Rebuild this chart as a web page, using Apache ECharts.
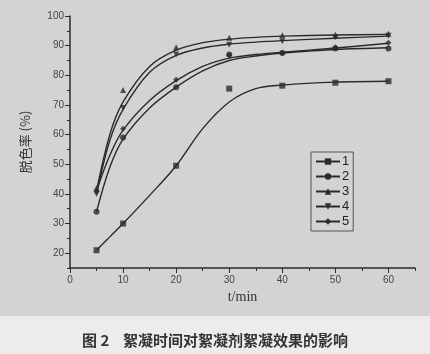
<!DOCTYPE html>
<html>
<head>
<meta charset="utf-8">
<script src="https://cdn.jsdelivr.net/npm/echarts@6/dist/echarts.min.js"></script>
<style>
  html, body { margin: 0; padding: 0; background: #ececec; }
  #main { width: 430px; height: 354px; }
</style>
</head>
<body>
<div id="main"></div>
<script>
// measured points (t/min -> 脱色率 %)
var times = [5, 10, 20, 30, 40, 50, 60];
var s1 = [21, 30, 49.5, 75.5, 76.5, 77.5, 78];
var s2 = [34, 59, 76, 87, 87.5, 89, 89];
var s3 = [42, 75, 89.5, 92.7, 93.5, 93.7, 94];
var s4 = [40, 69, 87, 90.3, 91.5, 92.8, 93.3];
var s5 = [41, 62, 78.5, 86.8, 87.5, 89.5, 91];

// fitted curves
var fitTimes = [5, 7.5, 10, 15, 20, 25, 30, 35, 40, 50, 60];
var f1 = [21, 25.5, 30, 39.5, 49.5, 62, 71, 75.5, 76.7, 77.7, 78];
var f2 = [34, 49, 58.5, 69, 76, 81.5, 85, 86.5, 87.5, 88.7, 89.3];
var f3 = [41, 60, 71, 83, 88.5, 91, 92.2, 92.8, 93.2, 93.6, 93.8];
var f4 = [40, 58, 68.5, 81, 86.7, 89.2, 90.5, 91.2, 91.7, 92.5, 93.2];
var f5 = [41, 53, 61.5, 71.5, 78.2, 83, 85.8, 87, 87.8, 89.2, 90.8];

var names = ['1', '2', '3', '4', '5'];
var points = [s1, s2, s3, s4, s5];
var fits = [f1, f2, f3, f4, f5];
var symbols = ['rect', 'circle', 'triangle', 'triangle', 'diamond'];
var rotates = [0, 0, 0, 180, 0];

var xMajor = [0, 10, 20, 30, 40, 50, 60];
var xMinor = [5, 15, 25, 35, 45, 55, 65];
var yMajor = [20, 30, 40, 50, 60, 70, 80, 90, 100];
var yMinor = [15, 25, 35, 45, 55, 65, 75, 85, 95];

function pairs(xs, ys) {
    var out = [];
    for (var i = 0; i < xs.length; i++) out.push([xs[i], ys[i]]);
    return out;
}

var ink = '#2a2a2a';
var series = [];
// curves first so the legend icon takes line + symbol from them
for (var i = 0; i < 5; i++) {
    series.push({
        name: names[i],
        type: 'line',
        smooth: 0.35,
        showSymbol: false,
        symbol: symbols[i],
        symbolRotate: rotates[i],
        symbolSize: 6,
        data: pairs(fitTimes, fits[i]),
        lineStyle: { color: ink, width: 1.4 },
        itemStyle: { color: ink },
        z: 2
    });
}
for (var j = 0; j < 5; j++) {
    series.push({
        name: names[j],
        type: 'scatter',
        symbol: symbols[j],
        symbolRotate: rotates[j],
        symbolSize: 6,
        data: pairs(times, points[j]),
        itemStyle: { color: ink },
        z: 3
    });
}

var myChart = echarts.init(document.getElementById('main'));
myChart.setOption({
    backgroundColor: '#ececec',
    animation: false,
    title: {
        text: '图 2    絮凝时间对絮凝剂絮凝效果的影响',
        left: 'center',
        top: 328,
        textStyle: {
            fontFamily: 'Noto Sans CJK SC',
            fontSize: 15,
            fontWeight: 'bold',
            color: '#333'
        }
    },
    graphic: [{
        type: 'rect',
        left: 0, top: 0, z: -10,
        shape: { width: 430, height: 316 },
        style: { fill: '#d3d3d3' }
    }],
    legend: {
        data: names,
        orient: 'vertical',
        left: 311,
        top: 152,
        padding: [3, 4, 3, 4],
        itemGap: 2,
        itemWidth: 24,
        itemHeight: 8,
        borderColor: '#555',
        borderWidth: 1,
        textStyle: { fontFamily: 'Liberation Sans', fontSize: 13, color: '#222', padding: [0, 0, 0, -3] }
    },
    grid: [
        { left: 70, top: 16, right: 15, bottom: 86 },
        { left: 70, top: 16, right: 15, bottom: 86 }
    ],
    xAxis: [{
        type: 'value',
        gridIndex: 0,
        min: 0,
        max: 65,
        name: 't/min',
        nameLocation: 'middle',
        nameGap: 22,
        nameTextStyle: { fontFamily: 'Liberation Serif', fontSize: 14, color: '#333' },
        axisLine: { lineStyle: { color: ink, width: 1.5 } },
        axisTick: { customValues: xMajor, length: 5, lineStyle: { color: ink } },
        axisLabel: { customValues: xMajor, fontFamily: 'Liberation Sans', fontSize: 10, color: '#444', margin: 7 },
        splitLine: { show: false }
    }, {
        type: 'value',
        gridIndex: 1,
        min: 0,
        max: 65,
        axisLine: { show: false },
        axisTick: { customValues: xMinor, length: 3, lineStyle: { color: ink } },
        axisLabel: { show: false },
        splitLine: { show: false }
    }],
    yAxis: [{
        type: 'value',
        gridIndex: 0,
        min: 15,
        max: 100,
        name: '脱色率 (%)',
        nameLocation: 'middle',
        nameRotate: 90,
        nameGap: 38,
        nameTextStyle: { fontFamily: 'Noto Sans CJK SC', fontSize: 13, color: '#333' },
        axisLine: { show: true, lineStyle: { color: ink, width: 1.5 } },
        axisTick: { show: true, customValues: yMajor, length: 5, lineStyle: { color: ink } },
        axisLabel: { customValues: yMajor, fontFamily: 'Liberation Sans', fontSize: 10, color: '#444', margin: 6 },
        splitLine: { show: false }
    }, {
        type: 'value',
        gridIndex: 1,
        min: 15,
        max: 100,
        axisLine: { show: false },
        axisTick: { show: true, customValues: yMinor, length: 3, lineStyle: { color: ink } },
        axisLabel: { show: false },
        splitLine: { show: false }
    }],
    series: series
});
</script>
</body>
</html>
